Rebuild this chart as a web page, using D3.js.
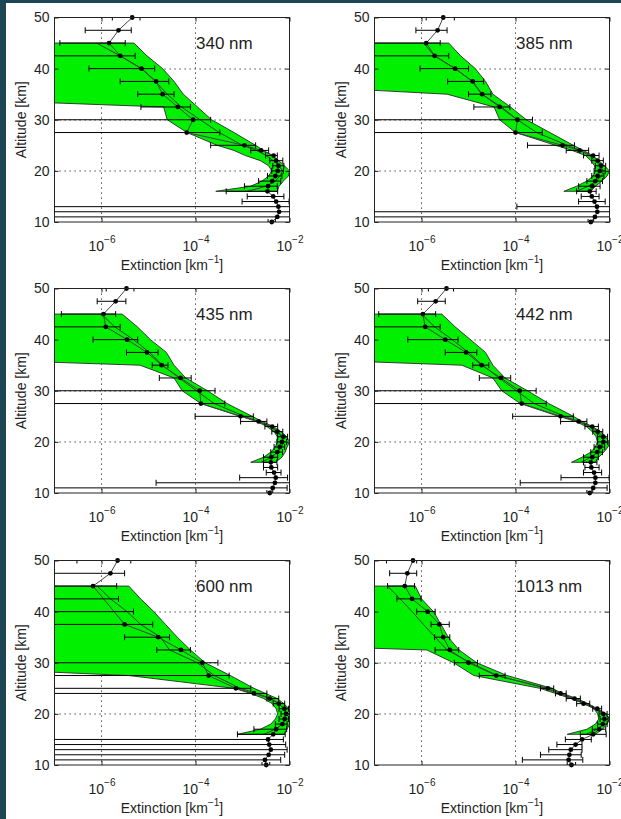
<!DOCTYPE html>
<html><head><meta charset="utf-8">
<script src="https://cdn.jsdelivr.net/npm/d3@7"></script>
<style>
body{margin:0;background:#1d4553;}
svg{display:block;font-family:"Liberation Sans",Arial,Helvetica,sans-serif;}
</style>
</head><body>
<svg id="chart" width="621" height="819"></svg>
<script>
// ---------- data ----------
const ALT = [10,11,12,13,14,15,16,17,18,19,20,21,22,23,24,25,27.5,30,32.5,35,37.5,40,42.5,45,47.5,50];
const BAND_ALT = [16,17,18,19,20,21,22,23,24,25,27.5,30,32.5,35,37.5,40,42.5,45];
const LABELS = ["340 nm","385 nm","435 nm","442 nm","600 nm","1013 nm"];
const X_TICKS = [1e-6,1e-4,1e-2];
const X_TICK_EXP = ["\u22126","\u22124","\u22122"];
const Y_TICKS = [10,20,30,40,50];
const X_GRID = [1e-6,1e-4];
const Y_GRID = [20,30,40];

// 340 nm
const ext340 = [4.2e-3,5.5e-3,6.0e-3,5.8e-3,5.2e-3,4.5e-3,3.4e-3,3.5e-3,4.3e-3,5.0e-3,5.6e-3,5.8e-3,5.2e-3,4.6e-3,2.5e-3,1.1e-3,6.5e-5,8.9e-5,4.2e-5,2.0e-5,1.45e-5,7.1e-6,2.5e-6,1.45e-6,2.3e-6,4.5e-6];
const lo340 = [3.5e-3,1e-9,1e-9,1e-9,9.8e-4,1.26e-3,4.5e-4,1.1e-3,2.2e-3,3.4e-3,4.2e-3,4.4e-3,3.8e-3,3.1e-3,1.5e-3,2.1e-4,1e-9,1e-9,6.9e-6,5.9e-6,2.5e-6,5.4e-7,1e-9,1.3e-7,4.5e-7,1.7e-6];
const hi340 = [5.0e-3,1e-1,1e-1,1e-1,9.8e-3,7.6e-3,5.6e-3,5.5e-3,6.5e-3,6.9e-3,7.4e-3,7.6e-3,7.2e-3,5.5e-3,3.6e-3,1.9e-3,3.3e-4,2.1e-4,7.8e-5,3.5e-5,2.7e-5,1.35e-5,5.2e-6,3.2e-6,4.3e-6,6.6e-6];
const bandLo340 = [2.7e-4,1.5e-3,2.6e-3,3.6e-3,4.2e-3,3.6e-3,2.4e-3,1.15e-3,6.6e-4,2.9e-4,6.6e-5,2.5e-5,2.1e-5,1e-12,1e-12,1e-12,1e-12,1e-12];
const bandHi340 = [5.5e-3,6.0e-3,7.4e-3,9.5e-3,1.0e-2,7.8e-3,5.9e-3,4.3e-3,2.8e-3,1.9e-3,6.6e-4,2.2e-4,1.1e-4,5.5e-5,3.5e-5,2.0e-5,9.3e-6,4.9e-6];
const bandMid340 = [1.26e-3,3.2e-3,5.0e-3,6.3e-3,7.1e-3,6.0e-3,4.5e-3,3.2e-3,2.0e-3,1.0e-3,3.2e-4,1.26e-4,5.0e-5,2.5e-5,1.4e-5,7.1e-6,2.5e-6,7.9e-7];

// 385 nm
const ext385 = [4.0e-3,4.9e-3,5.5e-3,5.4e-3,4.8e-3,4.2e-3,3.8e-3,4.3e-3,5.0e-3,5.6e-3,6.2e-3,6.6e-3,5.6e-3,4.5e-3,2.3e-3,1.0e-3,1.0e-4,1.1e-4,4.6e-5,1.95e-5,1.23e-5,5.2e-6,1.9e-6,1.26e-6,2.2e-6,2.9e-6];
const lo385 = [3.5e-3,1e-9,1e-9,1.07e-4,2.2e-3,2.5e-3,2.0e-3,2.2e-3,3.3e-3,4.2e-3,4.7e-3,5.0e-3,4.2e-3,2.8e-3,1.2e-3,1.8e-4,1e-9,1e-9,1.3e-5,1.0e-5,3.6e-6,9.3e-7,1e-9,6.3e-8,7.6e-7,1.26e-6];
const hi385 = [4.6e-3,1e-1,1e-1,1e-1,8.1e-3,6.0e-3,5.2e-3,6.3e-3,7.1e-3,7.6e-3,8.1e-3,8.3e-3,7.4e-3,6.0e-3,3.6e-3,1.8e-3,3.7e-4,2.3e-4,7.6e-5,3.0e-5,2.1e-5,1.0e-5,3.8e-6,2.5e-6,3.5e-6,5.0e-6];
const bandLo385 = [1.07e-3,2.0e-3,3.3e-3,4.5e-3,5.0e-3,4.8e-3,4.0e-3,3.1e-3,1.6e-3,7.1e-4,1.0e-4,4.6e-5,3.5e-5,3.5e-6,2.5e-11,1e-12,1e-12,1e-12];
const bandHi385 = [4.0e-3,5.0e-3,6.9e-3,8.9e-3,1.0e-2,7.8e-3,5.9e-3,4.3e-3,2.8e-3,1.7e-3,5.4e-4,1.7e-4,7.8e-5,3.3e-5,2.3e-5,1.4e-5,6.8e-6,3.8e-6];
const bandMid385 = [2.0e-3,3.5e-3,5.2e-3,6.8e-3,7.4e-3,6.3e-3,5.0e-3,3.7e-3,2.4e-3,1.26e-3,2.8e-4,1.1e-4,5.0e-5,1.9e-5,1.2e-5,5.2e-6,1.9e-6,1.1e-6];

// 435 nm
const ext435 = [3.8e-3,4.4e-3,4.9e-3,5.1e-3,4.7e-3,4.1e-3,4.0e-3,4.1e-3,5.5e-3,6.2e-3,6.9e-3,7.4e-3,5.5e-3,4.3e-3,2.2e-3,9.1e-4,1.3e-4,1.23e-4,4.8e-5,1.9e-5,9.3e-6,3.5e-6,1.23e-6,1.1e-6,2.0e-6,3.4e-6];
const lo435 = [3.3e-3,1e-9,1.45e-5,8.7e-4,3.2e-3,2.8e-3,2.8e-3,2.8e-3,4.0e-3,4.7e-3,5.4e-3,5.6e-3,4.2e-3,3.0e-3,9.1e-4,9.8e-5,1e-9,1e-9,1.7e-5,1.2e-5,3.4e-6,6.6e-7,1e-9,1.4e-7,8.1e-7,1.26e-6];
const hi435 = [4.4e-3,8.9e-3,1e-1,9.1e-3,6.6e-3,5.6e-3,5.4e-3,5.6e-3,7.1e-3,7.9e-3,8.7e-3,9.1e-3,7.2e-3,5.6e-3,3.3e-3,1.7e-3,4.2e-4,2.6e-4,8.1e-5,2.6e-5,1.6e-5,5.9e-6,2.5e-6,2.0e-6,3.3e-6,4.9e-6];
const bandLo435 = [1.5e-3,2.8e-3,4.0e-3,5.0e-3,5.5e-3,5.5e-3,4.7e-3,3.3e-3,2.0e-3,9.1e-4,1.3e-4,5.2e-5,3.5e-5,6.6e-6,5e-14,1e-14,1e-14,1e-14];
const bandHi435 = [5.0e-3,6.9e-3,8.1e-3,8.9e-3,1.0e-2,8.7e-3,6.6e-3,4.5e-3,2.6e-3,1.6e-3,4.7e-4,1.8e-4,6.2e-5,3.5e-5,2.4e-5,1.1e-5,5.8e-6,2.75e-6];
const bandMid435 = [2.5e-3,4.2e-3,5.6e-3,6.8e-3,7.6e-3,6.8e-3,5.4e-3,3.8e-3,2.2e-3,1.1e-3,2.5e-4,1.05e-4,4.5e-5,2.0e-5,1.05e-5,4.8e-6,1.9e-6,1.0e-6];

// 442 nm
const ext442 = [3.8e-3,4.5e-3,5.0e-3,5.0e-3,4.7e-3,4.1e-3,4.0e-3,4.3e-3,5.5e-3,6.2e-3,7.4e-3,7.4e-3,5.6e-3,4.3e-3,2.2e-3,9.1e-4,1.35e-4,1.23e-4,4.9e-5,1.9e-5,8.9e-6,3.2e-6,1.2e-6,1.07e-6,2.0e-6,3.4e-6];
const lo442 = [3.3e-3,1e-9,1.26e-4,9.3e-4,2.8e-3,3.0e-3,2.8e-3,2.8e-3,4.0e-3,4.7e-3,5.6e-3,5.6e-3,4.4e-3,3.0e-3,9.1e-4,8.7e-5,1e-9,1e-9,1.7e-5,1.23e-5,3.2e-6,5.1e-7,1e-9,1.23e-7,8.3e-7,1.4e-6];
const hi442 = [4.4e-3,8.9e-3,1e-1,9.8e-3,6.8e-3,6.0e-3,5.4e-3,5.8e-3,7.1e-3,7.9e-3,9.1e-3,9.1e-3,7.2e-3,5.8e-3,3.3e-3,1.7e-3,4.5e-4,2.75e-4,7.9e-5,2.7e-5,1.5e-5,6.0e-6,2.5e-6,2.0e-6,3.2e-6,4.8e-6];
const bandLo442 = [1.55e-3,2.6e-3,4.0e-3,5.0e-3,5.5e-3,5.2e-3,4.3e-3,3.2e-3,1.9e-3,8.3e-4,1.26e-4,5.1e-5,3.3e-5,7.2e-6,2.6e-13,1e-13,1e-13,1e-13];
const bandHi442 = [5.0e-3,5.9e-3,7.6e-3,9.3e-3,1.0e-2,8.1e-3,6.5e-3,4.3e-3,2.6e-3,1.7e-3,5.1e-4,1.8e-4,6.0e-5,3.3e-5,2.3e-5,1.1e-5,5.2e-6,2.7e-6];
const bandMid442 = [2.5e-3,4.0e-3,5.5e-3,6.9e-3,7.6e-3,6.6e-3,5.2e-3,3.7e-3,2.2e-3,1.1e-3,2.5e-4,1.05e-4,4.5e-5,2.0e-5,1.0e-5,4.5e-6,1.9e-6,1.0e-6];

// 600 nm
const ext600 = [3.2e-3,3.0e-3,3.6e-3,4.0e-3,3.7e-3,3.5e-3,4.5e-3,5.2e-3,7.1e-3,7.9e-3,8.5e-3,7.8e-3,5.9e-3,3.8e-3,1.75e-3,7.2e-4,1.9e-4,1.4e-4,4.9e-5,1.6e-5,3.1e-6,null,null,6.6e-7,1.55e-6,2.2e-6];
const lo600 = [2.6e-3,1e-9,1e-9,1e-9,1e-9,1e-9,7.8e-4,1.75e-3,5.0e-3,6.0e-3,6.6e-3,6.0e-3,4.5e-3,3.3e-3,1e-9,1e-9,1e-9,1e-9,1.5e-5,3.1e-6,1e-9,1e-9,1e-9,3e-8,1e-9,3.0e-7];
const hi600 = [3.8e-3,6.5e-3,7.9e-3,8.9e-3,8.3e-3,7.4e-3,8.1e-3,8.7e-3,8.9e-3,9.5e-3,1.0e-2,9.5e-3,7.9e-3,5.9e-3,3.3e-3,1.5e-3,5.2e-4,3.0e-4,7.8e-5,2.8e-5,1.23e-5,4.8e-6,2.3e-6,2.1e-6,3.1e-6,4.2e-6];
const bandLo600 = [7.8e-4,2.4e-3,4.0e-3,5.0e-3,5.6e-3,5.2e-3,4.3e-3,2.8e-3,1.5e-3,6.6e-4,3.8e-6,2.5e-12,1e-12,1e-12,1e-12,1e-12,1e-12,1e-12];
const bandHi600 = [7.6e-3,8.9e-3,1.0e-2,1.05e-2,1.05e-2,9.8e-3,7.6e-3,5.5e-3,3.1e-3,1.75e-3,5.5e-4,1.6e-4,7.8e-5,4.1e-5,2.3e-5,1.3e-5,6.8e-6,3.8e-6];
const bandMid600 = [2.8e-3,5.0e-3,7.1e-3,7.9e-3,8.3e-3,7.6e-3,6.0e-3,4.0e-3,2.0e-3,8.9e-4,2.5e-4,1.1e-4,2.8e-5,1.8e-5,6.8e-6,3.5e-6,1.55e-6,8.1e-7];

// 1013 nm
const ext1013 = [1.55e-3,1.35e-3,1.4e-3,1.5e-3,1.9e-3,2.6e-3,4.5e-3,6.0e-3,7.2e-3,7.8e-3,7.4e-3,5.5e-3,2.8e-3,1.8e-3,9.1e-4,4.9e-4,3.9e-5,1.0e-5,4.0e-6,2.9e-6,2.4e-6,1.35e-6,6.3e-7,4.4e-7,5.0e-7,6.6e-7];
const lo1013 = [1.26e-3,1.4e-4,3.4e-4,5.1e-4,7.6e-4,1.15e-3,2.4e-3,4.3e-3,5.6e-3,6.3e-3,6.0e-3,4.4e-3,2.0e-3,1.2e-3,7.1e-4,3.4e-4,1.7e-5,5.0e-6,1.95e-6,1.9e-6,1.6e-6,7.9e-7,3.0e-7,1.9e-7,2.1e-7,1.8e-7];
const hi1013 = [1.9e-3,2.7e-3,2.5e-3,2.6e-3,2.6e-3,4.1e-3,8.5e-3,8.3e-3,8.9e-3,9.3e-3,8.9e-3,6.8e-3,3.8e-3,2.4e-3,1.2e-3,6.5e-4,6.0e-5,1.55e-5,6.2e-6,4.0e-6,3.9e-6,1.95e-6,9.8e-7,7.1e-7,7.9e-7,7.9e-7];
const bandLo1013 = [1.26e-3,3.3e-3,5.0e-3,5.9e-3,5.6e-3,4.7e-3,2.8e-3,1.5e-3,7.1e-4,3.3e-4,1.3e-5,4.8e-6,1.3e-6,5e-15,1e-15,1e-15,1e-15,1e-15];
const bandHi1013 = [5.0e-3,7.1e-3,8.9e-3,1.0e-2,8.3e-3,5.6e-3,3.5e-3,2.0e-3,1.0e-3,6.0e-4,6.6e-5,1.5e-5,6.3e-6,3.7e-6,2.6e-6,1.8e-6,1.0e-6,7.4e-7];
const bandMid1013 = [3.2e-3,5.6e-3,7.2e-3,7.9e-3,7.1e-3,5.2e-3,3.2e-3,1.7e-3,8.5e-4,4.4e-4,4.1e-5,1.1e-5,3.5e-6,1.95e-6,1.1e-6,6.3e-7,3.5e-7,1.9e-7];

const panels = [
  {label: LABELS[0], ext: ext340, lo: lo340, hi: hi340, bLo: bandLo340, bHi: bandHi340, bMid: bandMid340},
  {label: LABELS[1], ext: ext385, lo: lo385, hi: hi385, bLo: bandLo385, bHi: bandHi385, bMid: bandMid385},
  {label: LABELS[2], ext: ext435, lo: lo435, hi: hi435, bLo: bandLo435, bHi: bandHi435, bMid: bandMid435},
  {label: LABELS[3], ext: ext442, lo: lo442, hi: hi442, bLo: bandLo442, bHi: bandHi442, bMid: bandMid442},
  {label: LABELS[4], ext: ext600, lo: lo600, hi: hi600, bLo: bandLo600, bHi: bandHi600, bMid: bandMid600},
  {label: LABELS[5], ext: ext1013, lo: lo1013, hi: hi1013, bLo: bandLo1013, bHi: bandHi1013, bMid: bandMid1013}
];

// ---------- layout ----------
const COL_X = [54.5, 374.5];
const ROW_Y = [17.5, 288.5, 560.5];
const W = 235, H = 204.5;
const TXT = "#1e1e1e";

const svg = d3.select("#chart");
svg.append("rect").attr("x", 6).attr("y", 3).attr("width", 615).attr("height", 816).attr("fill", "#ffffff");

panels.forEach((p, k) => {
  const col = k % 2, row = Math.floor(k / 2);
  const g = svg.append("g").attr("transform", `translate(${COL_X[col]},${ROW_Y[row]})`);
  const x = d3.scaleLog().domain([1e-7, 1e-2]).range([0, W]);
  const y = d3.scaleLinear().domain([10, 50]).range([H, 0]);

  const cid = "clip" + k;
  g.append("clipPath").attr("id", cid).append("rect").attr("width", W).attr("height", H);
  const inner = g.append("g").attr("clip-path", `url(#${cid})`);

  // grid
  inner.selectAll(".vg").data(X_GRID).join("line")
    .attr("x1", d => Math.round(x(d))).attr("x2", d => Math.round(x(d)))
    .attr("y1", 0).attr("y2", H)
    .attr("stroke", "#222").attr("stroke-width", 1).attr("stroke-dasharray", "1.2,3.8");
  inner.selectAll(".hg").data(Y_GRID).join("line")
    .attr("y1", d => Math.round(y(d)) + 0.5).attr("y2", d => Math.round(y(d)) + 0.5)
    .attr("x1", 0).attr("x2", W)
    .attr("stroke", "#222").attr("stroke-width", 1).attr("stroke-dasharray", "1.2,3.8");

  // band
  const band = BAND_ALT.map((a, i) => ({a, lo: p.bLo[i], hi: p.bHi[i], mid: p.bMid[i]}));
  inner.append("path").datum(band)
    .attr("d", d3.area().y(d => y(d.a)).x0(d => x(d.lo)).x1(d => x(d.hi)))
    .attr("fill", "#00f000").attr("stroke", "#2a2a2a").attr("stroke-width", 0.9);
  inner.append("path").datum(band)
    .attr("d", d3.line().x(d => x(d.mid)).y(d => y(d.a)))
    .attr("fill", "none").attr("stroke", "#333").attr("stroke-width", 0.9);

  // points line
  const pts = ALT.map((a, i) => ({a, v: p.ext[i], lo: p.lo[i], hi: p.hi[i]}));
  const valid = pts.filter(d => d.v != null);
  inner.append("path").datum(valid)
    .attr("d", d3.line().x(d => x(d.v)).y(d => y(d.a)))
    .attr("fill", "none").attr("stroke", "#444").attr("stroke-width", 1);

  // error bars
  const eb = inner.append("g").attr("stroke", "#000").attr("stroke-width", 1);
  pts.forEach(d => {
    const yy = y(d.a);
    eb.append("line").attr("x1", x(d.lo)).attr("x2", x(d.hi)).attr("y1", yy).attr("y2", yy);
    eb.append("line").attr("x1", x(d.lo)).attr("x2", x(d.lo)).attr("y1", yy - 3).attr("y2", yy + 3);
    eb.append("line").attr("x1", x(d.hi)).attr("x2", x(d.hi)).attr("y1", yy - 3).attr("y2", yy + 3);
  });

  // markers
  g.append("g").selectAll("circle").data(valid).join("circle")
    .attr("cx", d => x(d.v)).attr("cy", d => y(d.a)).attr("r", 2.4).attr("fill", "#000");

  // axes
  const styleAxis = s => { s.select(".domain").remove(); s.selectAll(".tick line").attr("stroke", "#222"); };
  g.append("g").call(d3.axisLeft(y).tickValues(Y_TICKS).tickSizeInner(-4).tickSizeOuter(0).tickPadding(5))
    .call(styleAxis)
    .call(s => s.selectAll(".tick text").attr("font-size", 14).attr("fill", TXT)
      .attr("font-family", "'Liberation Sans',Arial,sans-serif"));
  g.append("g").attr("transform", `translate(${W},0)`)
    .call(d3.axisRight(y).tickValues(Y_TICKS).tickSizeInner(-4).tickSizeOuter(0).tickFormat(() => ""))
    .call(styleAxis);
  g.append("g").attr("transform", `translate(0,0)`)
    .call(d3.axisTop(x).tickValues(X_TICKS).tickSizeInner(-4).tickSizeOuter(0).tickFormat(() => ""))
    .call(styleAxis);
  g.append("g").attr("transform", `translate(0,${H})`)
    .call(d3.axisBottom(x).tickValues(X_TICKS).tickSizeInner(-4).tickSizeOuter(0).tickFormat(() => ""))
    .call(styleAxis)
    .call(s => s.selectAll(".tick text").each(function(d, i) {
      const t = d3.select(this);
      t.attr("y", 29).attr("dy", null).attr("font-size", 14).attr("fill", TXT)
        .attr("font-family", "'Liberation Sans',Arial,sans-serif").attr("text-anchor", "middle");
      t.append("tspan").text("10");
      t.append("tspan").attr("dy", -8).attr("font-size", 10).text(X_TICK_EXP[i]);
    }));

  // box
  g.append("rect").attr("width", W).attr("height", H).attr("fill", "none")
    .attr("stroke", "#222").attr("stroke-width", 1);

  // panel label
  g.append("text").attr("x", x(1e-4) + 0.5).attr("y", 31)
    .attr("font-size", 17).attr("fill", TXT).text(p.label);

  // axis labels
  const xl = g.append("text").attr("x", W / 2).attr("y", H + 47.5)
    .attr("text-anchor", "middle").attr("font-size", 14).attr("fill", TXT);
  xl.append("tspan").text("Extinction [km");
  xl.append("tspan").attr("dy", -7).attr("font-size", 10).text("\u22121");
  xl.append("tspan").attr("dy", 7).text("]");

  g.append("text").attr("transform", `translate(-28.5,${H / 2}) rotate(-90)`)
    .attr("text-anchor", "middle").attr("font-size", 14).attr("fill", TXT).text("Altitude [km]");
});
</script>
</body></html>
